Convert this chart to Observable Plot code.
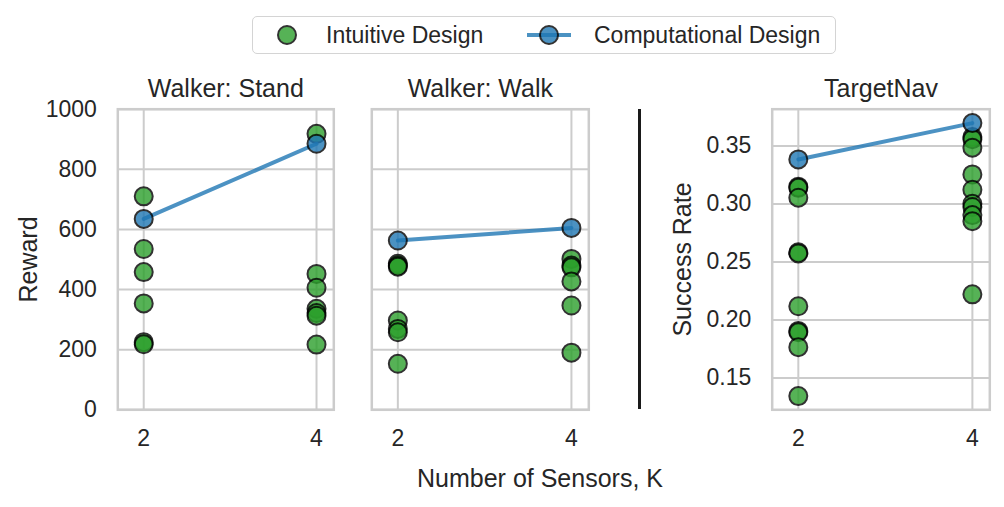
<!DOCTYPE html>
<html>
<head>
<meta charset="utf-8">
<script src="https://cdn.jsdelivr.net/npm/d3@7"></script>
<script src="https://cdn.jsdelivr.net/npm/@observablehq/plot@0.6"></script>
<style>
  html, body { margin: 0; padding: 0; background: #fff; }
  #root { position: relative; width: 1004px; height: 507px; overflow: hidden; font-family: "Liberation Sans", Arial, sans-serif; color: #262626; }
  .abs { position: absolute; }
</style>
</head>
<body>
<div id="root"></div>
<script>
// ---------------- data ----------------
const panelTitles = ["Walker: Stand", "Walker: Walk", "TargetNav"];
const yLabels = ["Reward", "Success Rate"];
const xLabel = "Number of Sensors, K";
const legendLabels = ["Intuitive Design", "Computational Design"];
const sensorCounts = [2, 4];

const standIntuitive2 = [710, 535, 458, 354, 225, 218];
const standIntuitive4 = [918, 452, 406, 336, 322, 313, 217];
const standComputational = [635, 885];

const walkIntuitive2 = [486, 480, 476, 297, 269, 258, 153];
const walkIntuitive4 = [502, 480, 474, 427, 347, 190];
const walkComputational = [563, 605];

const navIntuitive2 = [0.315, 0.314, 0.3055, 0.2585, 0.2575, 0.2119, 0.1907, 0.1895, 0.1767, 0.1345];
const navIntuitive4 = [0.3578, 0.356, 0.3486, 0.3256, 0.3124, 0.3003, 0.2975, 0.2905, 0.2853, 0.2222];
const navComputational = [0.3385, 0.3698];

const rewardTicks = [0, 200, 400, 600, 800, 1000];
const successTicks = [0.15, 0.20, 0.25, 0.30, 0.35];

// ---------------- helpers ----------------
const GREEN = "#2ca02c", BLUE = "#1f77b4", GRID = "#cccccc";
const FONT = '"Liberation Sans", Arial, sans-serif';
const toPoints = (v2, v4) => [...v2.map(v => ({x: sensorCounts[0], y: v})), ...v4.map(v => ({x: sensorCounts[1], y: v}))];
const toLine = (vals) => vals.map((v, i) => ({x: sensorCounts[i], y: v}));

const root = document.getElementById("root");
const FRAME_TOP = 108.7, FRAME_BOTTOM = 409.3, H = 460;

function panel({left, marginLeft, frameWidth, marginRight, yDomain, yTicks, showY, yTickFormat, title, ylabel, intuitive, computational}) {
  const width = marginLeft + frameWidth + marginRight;
  const marks = [
    Plot.gridX(sensorCounts, {stroke: GRID, strokeOpacity: 1, strokeWidth: 2}),
    Plot.gridY(yTicks, {stroke: GRID, strokeOpacity: 1, strokeWidth: 2}),
    Plot.frame({stroke: GRID, strokeWidth: 2.5}),
    Plot.axisX(sensorCounts, {tickSize: 0, tickPadding: 20, fontSize: 23, label: null}),
    Plot.dot(intuitive, {x: "x", y: "y", r: 9, fill: GREEN, stroke: "#000", strokeWidth: 2, opacity: 0.8}),
    Plot.line(computational, {x: "x", y: "y", stroke: BLUE, strokeWidth: 4, opacity: 0.8}),
    Plot.dot(computational, {x: "x", y: "y", r: 9, fill: BLUE, stroke: "#000", strokeWidth: 2, opacity: 0.8}),
    Plot.text([title], {frameAnchor: "top", dy: -12, lineAnchor: "bottom", fontSize: 25, fill: "#262626"})
  ];
  if (showY) {
    marks.push(Plot.axisY(yTicks, {tickSize: 0, tickPadding: 21, fontSize: 23, label: null, tickFormat: yTickFormat}));
    marks.push(Plot.text([ylabel], {frameAnchor: "left", dx: -89, rotate: -90, textAnchor: "middle", lineAnchor: "middle", fontSize: 25, fill: "#262626"}));
  } else {
    marks.push(Plot.axisY(yTicks, {tickSize: 0, ticks: [], label: null, tickFormat: () => ""}));
  }
  const chart = Plot.plot({
    width, height: H,
    marginLeft, marginRight, marginTop: FRAME_TOP, marginBottom: H - FRAME_BOTTOM,
    x: {domain: [1.7, 4.2]},
    y: {domain: yDomain},
    style: {fontFamily: FONT, fontSize: "23px", color: "#262626", background: "transparent", overflow: "visible"},
    marks
  });
  chart.classList.add("abs");
  chart.style.left = left + "px";
  chart.style.top = "0px";
  root.appendChild(chart);
}

panel({left: 0, marginLeft: 117.3, frameWidth: 216, marginRight: 8, yDomain: [0, 1000], yTicks: rewardTicks, showY: true,
  yTickFormat: d => String(d), title: panelTitles[0], ylabel: yLabels[0],
  intuitive: toPoints(standIntuitive2, standIntuitive4), computational: toLine(standComputational)});

panel({left: 350, marginLeft: 21.3, frameWidth: 217, marginRight: 8, yDomain: [0, 1000], yTicks: rewardTicks, showY: false,
  title: panelTitles[1], ylabel: "",
  intuitive: toPoints(walkIntuitive2, walkIntuitive4), computational: toLine(walkComputational)});

panel({left: 660, marginLeft: 111.7, frameWidth: 217.6, marginRight: 10, yDomain: [0.1227, 0.3818], yTicks: successTicks, showY: true,
  yTickFormat: d3.format(".2f"), title: panelTitles[2], ylabel: yLabels[1],
  intuitive: toPoints(navIntuitive2, navIntuitive4), computational: toLine(navComputational)});

// separator line
const sep = document.createElement("div");
sep.className = "abs";
Object.assign(sep.style, {left: "637.5px", top: "109px", width: "3px", height: "300px", background: "#1a1a1a"});
root.appendChild(sep);

// x label
const xl = document.createElement("div");
xl.className = "abs";
Object.assign(xl.style, {left: "340px", width: "400px", textAlign: "center", top: "464px", fontSize: "25px", lineHeight: "28px"});
xl.textContent = xLabel;
root.appendChild(xl);

// legend
const NS = "http://www.w3.org/2000/svg";
const leg = document.createElement("div");
leg.className = "abs";
Object.assign(leg.style, {left: "252px", top: "16px", width: "582px", height: "36px", border: "1.5px solid #d4d4d4", borderRadius: "5px", background: "#fff"});
const ls = document.createElementNS(NS, "svg");
ls.setAttribute("width", 582); ls.setAttribute("height", 36);
ls.innerHTML = `
  <circle cx="34" cy="18" r="9" fill="${GREEN}" stroke="#000" stroke-width="2" opacity="0.8"></circle>
  <text x="73" y="18" dy="0.35em" font-size="23" fill="#262626" font-family='${FONT}'>${legendLabels[0]}</text>
  <line x1="274" x2="318" y1="18" y2="18" stroke="${BLUE}" stroke-width="4" opacity="0.8"></line>
  <circle cx="296" cy="18" r="9" fill="${BLUE}" stroke="#000" stroke-width="2" opacity="0.8"></circle>
  <text x="341" y="18" dy="0.35em" font-size="23" fill="#262626" font-family='${FONT}'>${legendLabels[1]}</text>`;
leg.appendChild(ls);
root.appendChild(leg);
</script>
</body>
</html>
